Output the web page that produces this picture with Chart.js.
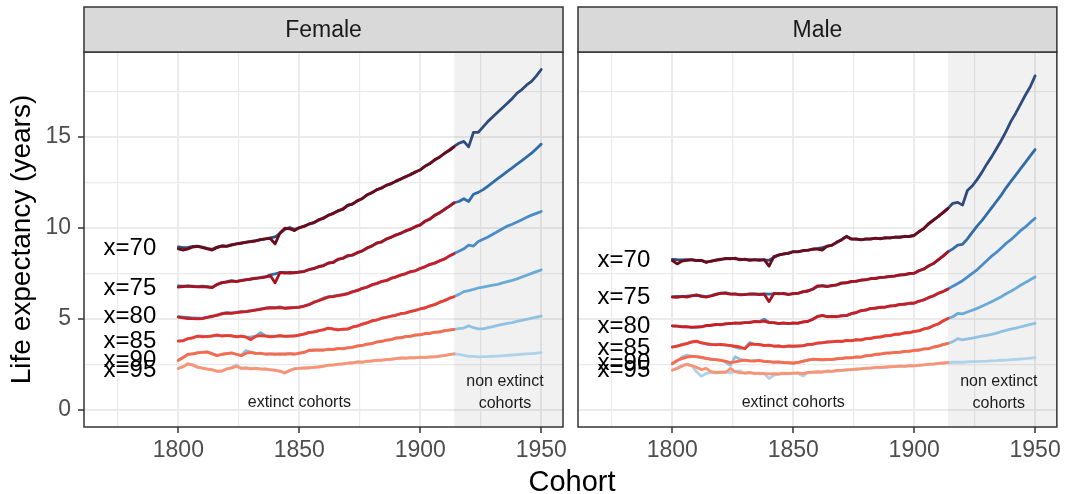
<!doctype html>
<html lang="en">
<head>
<meta charset="utf-8">
<title>Life expectancy by cohort</title>
<script src="https://cdn.jsdelivr.net/npm/chart.js@4"></script>
<style>
    body { margin: 0; background: #fff; width: 1065px; height: 494px; position: relative; overflow: hidden;
           font-family: "Liberation Sans", Arial, sans-serif; }
    #female { position: absolute; left: 0; top: 0; }
    #male { position: absolute; left: 570px; top: 0; }
    /* shared x axis title, centred under both panels */
    #xtitle { position: absolute; left: 472px; width: 200px; top: 464px; line-height: 34px;
              text-align: center; font-size: 29px; color: #000; }
</style>
</head>
<body>
<canvas id="female" width="572" height="494"></canvas>
<canvas id="male" width="495" height="494"></canvas>
<div id="xtitle">Cohort</div>

<script>
// cohorts, every second year
const YEARS = [
    1800, 1802, 1804, 1806, 1808, 1810, 1812, 1814, 1816, 1818,
    1820, 1822, 1824, 1826, 1828, 1830, 1832, 1834, 1836, 1838,
    1840, 1842, 1844, 1846, 1848, 1850, 1852, 1854, 1856, 1858,
    1860, 1862, 1864, 1866, 1868, 1870, 1872, 1874, 1876, 1878,
    1880, 1882, 1884, 1886, 1888, 1890, 1892, 1894, 1896, 1898,
    1900, 1902, 1904, 1906, 1908, 1910, 1912, 1914, 1916, 1918,
    1920, 1922, 1924, 1926, 1928, 1930, 1932, 1934, 1936, 1938,
    1940, 1942, 1944, 1946, 1948, 1950
];
const AGES = ['x=70', 'x=75', 'x=80', 'x=85', 'x=90', 'x=95'];

// all cohorts 1800-1950 (blue), extinct cohorts 1800-1914 (red)
const FEMALE_ALL_70 = [
    8.95, 8.92, 8.93, 8.98, 9.00,  8.95, 8.88, 8.82, 8.95, 9.02,
    9.00, 9.08, 9.12, 9.18, 9.20,  9.26, 9.30, 9.36, 9.40, 9.45,
    9.50, 9.70, 9.92, 10.02, 9.92,  10.00, 10.10, 10.20, 10.30, 10.42,
    10.55, 10.68, 10.80, 10.92, 11.05,  11.22, 11.32, 11.48, 11.62, 11.80,
    11.95, 12.08, 12.20, 12.33, 12.45,  12.55, 12.70, 12.80, 12.95, 13.05,
    13.20, 13.38, 13.55, 13.72, 13.90,  14.08, 14.28, 14.48, 14.65, 14.75,
    14.45, 15.25, 15.25, 15.55, 15.85,  16.10, 16.35, 16.60, 16.85, 17.10,
    17.40, 17.60, 17.85, 18.05, 18.35,  18.70
];
const FEMALE_ALL_75 = [
    6.82, 6.80, 6.82, 6.80, 6.78,  6.80, 6.78, 6.74, 6.88, 6.98,
    7.05, 7.10, 7.06, 7.12, 7.15,  7.20, 7.22, 7.28, 7.32, 7.42,
    7.48, 7.55, 7.55, 7.52, 7.55,  7.56, 7.62, 7.70, 7.78, 7.86,
    7.95, 8.05, 8.12, 8.25, 8.35,  8.45, 8.52, 8.62, 8.75, 8.88,
    9.02, 9.15, 9.25, 9.38, 9.50,  9.60, 9.72, 9.82, 9.95, 10.05,
    10.18, 10.35, 10.50, 10.68, 10.85,  11.00, 11.20, 11.38, 11.45, 11.60,
    11.45, 11.85, 11.95, 12.10, 12.30,  12.50, 12.70, 12.90, 13.10, 13.30,
    13.50, 13.70, 13.90, 14.10, 14.35,  14.60
];
const FEMALE_ALL_80 = [
    5.12, 5.10, 5.08, 5.05, 5.04,  5.04, 5.10, 5.12, 5.22, 5.30,
    5.35, 5.33, 5.36, 5.40, 5.42,  5.45, 5.50, 5.55, 5.60, 5.64,
    5.62, 5.66, 5.60, 5.62, 5.64,  5.66, 5.72, 5.80, 5.90, 6.02,
    6.14, 6.22, 6.25, 6.30, 6.35,  6.40, 6.48, 6.58, 6.66, 6.76,
    6.86, 6.96, 7.05, 7.12, 7.22,  7.32, 7.40, 7.50, 7.58, 7.66,
    7.76, 7.88, 7.98, 8.08, 8.18,  8.30, 8.45, 8.60, 8.72, 8.85,
    9.05, 9.00, 9.25, 9.38, 9.50,  9.65, 9.80, 9.95, 10.10, 10.20,
    10.32, 10.45, 10.58, 10.70, 10.80,  10.90
];
const FEMALE_ALL_85 = [
    3.80, 3.82, 3.90, 3.98, 4.05,  4.05, 4.02, 4.08, 4.10, 4.08,
    4.10, 4.06, 4.04, 4.05, 4.02,  4.00, 4.05, 4.25, 4.08, 4.05,
    4.06, 4.07, 4.06, 4.05, 4.08,  4.10, 4.18, 4.25, 4.30, 4.35,
    4.42, 4.48, 4.46, 4.42, 4.42,  4.45, 4.55, 4.62, 4.70, 4.80,
    4.88, 4.95, 5.02, 5.10, 5.15,  5.22, 5.28, 5.34, 5.40, 5.48,
    5.54, 5.62, 5.70, 5.80, 5.90,  6.02, 6.12, 6.23, 6.35, 6.50,
    6.55, 6.62, 6.70, 6.75, 6.80,  6.85, 6.90, 6.98, 7.05, 7.12,
    7.20, 7.30, 7.40, 7.50, 7.60,  7.69
];
const FEMALE_ALL_90 = [
    2.75, 2.90, 3.05, 3.10, 3.15,  3.18, 3.20, 3.10, 3.00, 3.05,
    3.10, 3.12, 3.05, 3.00, 3.26,  3.18, 3.12, 3.10, 3.08, 3.08,
    3.08, 3.06, 3.08, 3.10, 3.08,  3.10, 3.18, 3.26, 3.30, 3.28,
    3.30, 3.32, 3.34, 3.36, 3.38,  3.40, 3.45, 3.50, 3.55, 3.60,
    3.66, 3.72, 3.78, 3.82, 3.88,  3.94, 3.98, 4.02, 4.06, 4.10,
    4.14, 4.18, 4.22, 4.26, 4.30,  4.35, 4.40, 4.43, 4.47, 4.50,
    4.63, 4.52, 4.45, 4.45, 4.52,  4.58, 4.64, 4.70, 4.75, 4.80,
    4.86, 4.92, 4.98, 5.04, 5.10,  5.16
];
const FEMALE_ALL_95 = [
    2.29, 2.40, 2.52, 2.50, 2.36,  2.30, 2.26, 2.22, 2.15, 2.12,
    2.25, 2.35, 2.48, 2.30, 2.32,  2.28, 2.30, 2.26, 2.24, 2.22,
    2.20, 2.12, 2.02, 2.18, 2.28,  2.30, 2.32, 2.30, 2.35, 2.38,
    2.42, 2.46, 2.48, 2.50, 2.54,  2.56, 2.60, 2.62, 2.64, 2.66,
    2.70, 2.72, 2.74, 2.76, 2.80,  2.84, 2.84, 2.86, 2.86, 2.88,
    2.88, 2.90, 2.90, 2.92, 2.96,  3.00, 3.04, 3.08, 3.05, 3.00,
    2.95, 2.94, 2.92, 2.93, 2.93,  2.95, 2.96, 2.98, 3.00, 3.02,
    3.04, 3.06, 3.08, 3.10, 3.12,  3.15
];

const FEMALE_EXT_70 = [
    8.85, 8.78, 8.85, 8.95, 8.98,  8.92, 8.85, 8.78, 8.92, 9.00,
    8.98, 9.05, 9.12, 9.15, 9.22,  9.25, 9.28, 9.35, 9.40, 9.42,
    9.12, 9.72, 9.98, 9.95, 9.85,  10.02, 10.08, 10.22, 10.28, 10.45,
    10.52, 10.70, 10.78, 10.95, 11.02,  11.25, 11.30, 11.50, 11.60, 11.82,
    11.92, 12.10, 12.18, 12.35, 12.42,  12.58, 12.68, 12.82, 12.92, 13.08,
    13.18, 13.40, 13.52, 13.75, 13.88,  14.10, 14.25, 14.45
];
const FEMALE_EXT_75 = [
    6.75, 6.78, 6.80, 6.78, 6.76,  6.78, 6.75, 6.72, 6.90, 7.00,
    7.02, 7.08, 7.05, 7.10, 7.16,  7.18, 7.24, 7.26, 7.30, 7.38,
    6.98, 7.55, 7.52, 7.55, 7.53,  7.58, 7.60, 7.72, 7.76, 7.88,
    7.92, 8.08, 8.10, 8.28, 8.32,  8.48, 8.50, 8.65, 8.72, 8.90,
    9.00, 9.18, 9.22, 9.40, 9.48,  9.62, 9.70, 9.85, 9.92, 10.08,
    10.15, 10.38, 10.48, 10.70, 10.82,  11.02, 11.18, 11.38
];
const FEMALE_EXT_80 = [
    5.10, 5.06, 5.02, 5.02, 5.00,  5.02, 5.08, 5.15, 5.20, 5.28,
    5.32, 5.30, 5.35, 5.38, 5.40,  5.44, 5.48, 5.52, 5.58, 5.60,
    5.60, 5.62, 5.58, 5.60, 5.62,  5.64, 5.70, 5.78, 5.92, 6.00,
    6.10, 6.20, 6.22, 6.28, 6.32,  6.38, 6.50, 6.55, 6.68, 6.74,
    6.88, 6.94, 7.06, 7.10, 7.24,  7.30, 7.42, 7.48, 7.60, 7.64,
    7.78, 7.86, 8.00, 8.06, 8.20,  8.28, 8.46, 8.58
];
const FEMALE_EXT_85 = [
    3.78, 3.80, 3.92, 3.96, 4.06,  4.02, 4.04, 4.06, 4.12, 4.06,
    4.08, 4.08, 4.02, 4.06, 4.00,  3.86, 4.04, 4.08, 4.06, 4.02,
    4.04, 4.08, 4.04, 4.06, 4.06,  4.12, 4.16, 4.26, 4.28, 4.36,
    4.40, 4.50, 4.44, 4.40, 4.44,  4.44, 4.56, 4.60, 4.72, 4.78,
    4.90, 4.94, 5.04, 5.08, 5.16,  5.20, 5.30, 5.32, 5.42, 5.46,
    5.56, 5.60, 5.72, 5.78, 5.92,  6.00, 6.14, 6.22
];
const FEMALE_EXT_90 = [
    2.72, 2.88, 3.06, 3.08, 3.14,  3.16, 3.18, 3.08, 2.98, 3.06,
    3.10, 3.14, 3.06, 2.98, 3.12,  3.16, 3.10, 3.12, 3.06, 3.08,
    3.06, 3.08, 3.06, 3.10, 3.06,  3.12, 3.16, 3.28, 3.28, 3.30,
    3.28, 3.34, 3.32, 3.38, 3.36,  3.42, 3.44, 3.52, 3.54, 3.62,
    3.64, 3.74, 3.76, 3.84, 3.86,  3.96, 3.96, 4.04, 4.04, 4.12,
    4.12, 4.20, 4.20, 4.28, 4.28,  4.36, 4.38, 4.43
];
const FEMALE_EXT_95 = [
    2.28, 2.38, 2.54, 2.46, 2.34,  2.30, 2.24, 2.20, 2.12, 2.14,
    2.26, 2.30, 2.40, 2.28, 2.30,  2.26, 2.28, 2.24, 2.26, 2.20,
    2.18, 2.14, 2.04, 2.16, 2.26,  2.28, 2.30, 2.32, 2.34, 2.36,
    2.40, 2.46, 2.46, 2.52, 2.52,  2.58, 2.58, 2.64, 2.62, 2.68,
    2.68, 2.74, 2.72, 2.78, 2.78,  2.82, 2.86, 2.84, 2.88, 2.86,
    2.90, 2.88, 2.92, 2.92, 2.96,  2.98, 3.04, 3.08
];

const MALE_ALL_70 = [
    8.27, 8.25, 8.24, 8.26, 8.24,  8.22, 8.20, 8.14, 8.16, 8.24,
    8.28, 8.30, 8.33, 8.30, 8.28,  8.26, 8.25, 8.24, 8.26, 8.24,
    8.22, 8.38, 8.52, 8.56, 8.62,  8.68, 8.70, 8.74, 8.78, 8.82,
    8.86, 8.92, 8.98, 9.06, 9.20,  9.36, 9.52, 9.40, 9.38, 9.36,
    9.38, 9.40, 9.42, 9.42, 9.44,  9.46, 9.48, 9.50, 9.52, 9.55,
    9.60, 9.78, 9.98, 10.22, 10.45,  10.62, 10.85, 11.07, 11.35, 11.40,
    11.25, 12.05, 12.30, 12.65, 13.05,  13.50, 13.90, 14.35, 14.80, 15.30,
    15.85, 16.30, 16.80, 17.30, 17.75,  18.35
];
const MALE_ALL_75 = [
    6.22, 6.24, 6.22, 6.25, 6.28,  6.30, 6.26, 6.22, 6.28, 6.36,
    6.40, 6.44, 6.38, 6.36, 6.34,  6.35, 6.36, 6.38, 6.36, 6.38,
    6.36, 6.38, 6.40, 6.38, 6.36,  6.38, 6.42, 6.48, 6.55, 6.62,
    6.78, 6.84, 6.80, 6.82, 6.88,  6.95, 7.00, 7.04, 7.08, 7.12,
    7.16, 7.20, 7.24, 7.27, 7.30,  7.33, 7.36, 7.40, 7.44, 7.48,
    7.52, 7.64, 7.76, 7.90, 8.05,  8.25, 8.46, 8.69, 8.85, 9.05,
    9.10, 9.40, 9.75, 10.10, 10.40,  10.75, 11.10, 11.45, 11.80, 12.20,
    12.55, 12.90, 13.25, 13.60, 13.95,  14.30
];
const MALE_ALL_80 = [
    4.61, 4.60, 4.58, 4.56, 4.55,  4.54, 4.58, 4.62, 4.66, 4.68,
    4.70, 4.72, 4.76, 4.76, 4.78,  4.80, 4.82, 4.84, 4.86, 4.98,
    4.82, 4.78, 4.76, 4.76, 4.75,  4.76, 4.78, 4.82, 4.88, 4.96,
    5.15, 5.18, 5.14, 5.12, 5.14,  5.16, 5.20, 5.28, 5.36, 5.44,
    5.50, 5.56, 5.60, 5.63, 5.66,  5.70, 5.74, 5.78, 5.82, 5.85,
    5.88, 5.96, 6.06, 6.16, 6.28,  6.40, 6.52, 6.64, 6.80, 6.95,
    7.10, 7.30, 7.50, 7.70, 7.95,  8.20, 8.45, 8.65, 8.90, 9.15,
    9.35, 9.60, 9.85, 10.05, 10.30,  10.53
];
const MALE_ALL_85 = [
    3.47, 3.52, 3.60, 3.66, 3.72,  3.76, 3.70, 3.62, 3.58, 3.60,
    3.58, 3.56, 3.55, 3.45, 3.38,  3.40, 3.70, 3.62, 3.58, 3.56,
    3.55, 3.52, 3.50, 3.48, 3.50,  3.51, 3.50, 3.54, 3.58, 3.62,
    3.66, 3.70, 3.72, 3.75, 3.76,  3.78, 3.80, 3.82, 3.84, 3.86,
    3.90, 3.94, 3.98, 4.02, 4.06,  4.10, 4.14, 4.18, 4.22, 4.26,
    4.30, 4.36, 4.44, 4.52, 4.62,  4.74, 4.88, 5.03, 5.12, 5.30,
    5.28, 5.38, 5.48, 5.58, 5.70,  5.82, 5.95, 6.08, 6.22, 6.38,
    6.52, 6.68, 6.85, 7.00, 7.15,  7.30
];
const MALE_ALL_90 = [
    2.52, 2.70, 2.90, 3.00, 2.96,  2.92, 2.86, 2.82, 2.80, 2.76,
    2.74, 2.62, 2.45, 2.92, 2.78,  2.72, 2.70, 2.72, 2.70, 2.68,
    2.66, 2.64, 2.62, 2.60, 2.58,  2.56, 2.60, 2.66, 2.74, 2.80,
    2.76, 2.74, 2.76, 2.78, 2.80,  2.84, 2.86, 2.88, 2.90, 2.92,
    2.96, 3.00, 3.04, 3.08, 3.12,  3.14, 3.15, 3.18, 3.20, 3.24,
    3.26, 3.30, 3.34, 3.38, 3.44,  3.52, 3.58, 3.66, 3.75, 3.92,
    3.85, 3.90, 3.95, 4.00, 4.05,  4.10, 4.15, 4.22, 4.30, 4.37,
    4.44, 4.50, 4.57, 4.63, 4.70,  4.76
];
const MALE_ALL_95 = [
    2.20, 2.32, 2.46, 2.52, 2.42,  2.10, 1.85, 2.00, 2.06, 2.02,
    2.06, 2.10, 2.04, 2.12, 2.14,  2.00, 2.04, 2.02, 1.98, 2.00,
    1.72, 1.92, 1.96, 2.00, 1.98,  2.02, 2.00, 1.86, 2.04, 2.06,
    2.08, 2.10, 2.12, 2.12, 2.14,  2.16, 2.18, 2.20, 2.22, 2.26,
    2.28, 2.30, 2.32, 2.32, 2.34,  2.36, 2.38, 2.40, 2.40, 2.42,
    2.42, 2.44, 2.48, 2.50, 2.52,  2.54, 2.57, 2.60, 2.62, 2.63,
    2.62, 2.64, 2.65, 2.66, 2.67,  2.68, 2.70, 2.71, 2.73, 2.74,
    2.76, 2.78, 2.80, 2.82, 2.85,  2.88
];

const MALE_EXT_70 = [
    8.20, 8.02, 8.18, 8.22, 8.26,  8.20, 8.22, 8.10, 8.18, 8.22,
    8.26, 8.32, 8.30, 8.34, 8.24,  8.28, 8.22, 8.26, 8.22, 8.26,
    7.90, 8.42, 8.50, 8.58, 8.60,  8.70, 8.68, 8.76, 8.76, 8.84,
    8.84, 8.78, 9.00, 9.04, 9.22,  9.34, 9.54, 9.38, 9.40, 9.34,
    9.40, 9.38, 9.44, 9.40, 9.46,  9.44, 9.50, 9.48, 9.54, 9.52,
    9.58, 9.80, 9.96, 10.24, 10.42,  10.64, 10.84, 11.07
];
const MALE_EXT_75 = [
    6.20, 6.18, 6.24, 6.20, 6.26,  6.32, 6.24, 6.20, 6.26, 6.34,
    6.42, 6.40, 6.36, 6.38, 6.32,  6.34, 6.38, 6.36, 6.34, 6.36,
    5.95, 6.40, 6.38, 6.40, 6.34,  6.40, 6.40, 6.50, 6.52, 6.64,
    6.82, 6.80, 6.78, 6.84, 6.86,  6.98, 6.98, 7.06, 7.06, 7.14,
    7.14, 7.22, 7.22, 7.28, 7.30,  7.34, 7.35, 7.42, 7.42, 7.50,
    7.50, 7.66, 7.74, 7.92, 8.04,  8.26, 8.45, 8.69
];
const MALE_EXT_80 = [
    4.62, 4.60, 4.56, 4.58, 4.54,  4.56, 4.56, 4.64, 4.64, 4.70,
    4.68, 4.74, 4.74, 4.78, 4.76,  4.80, 4.80, 4.86, 4.84, 4.88,
    4.80, 4.80, 4.74, 4.78, 4.74,  4.78, 4.76, 4.84, 4.86, 4.98,
    5.12, 5.20, 5.12, 5.14, 5.12,  5.18, 5.18, 5.30, 5.34, 5.46,
    5.48, 5.58, 5.58, 5.65, 5.64,  5.72, 5.72, 5.80, 5.80, 5.86,
    5.86, 5.98, 6.04, 6.18, 6.26,  6.42, 6.50, 6.64
];
const MALE_EXT_85 = [
    3.45, 3.50, 3.58, 3.64, 3.74,  3.78, 3.68, 3.64, 3.60, 3.58,
    3.60, 3.58, 3.54, 3.50, 3.46,  3.36, 3.62, 3.60, 3.60, 3.54,
    3.56, 3.50, 3.52, 3.46, 3.52,  3.50, 3.52, 3.52, 3.60, 3.60,
    3.68, 3.68, 3.74, 3.74, 3.78,  3.76, 3.82, 3.80, 3.86, 3.84,
    3.92, 3.92, 4.00, 4.00, 4.08,  4.08, 4.16, 4.16, 4.24, 4.24,
    4.32, 4.34, 4.46, 4.50, 4.64,  4.72, 4.90, 5.03
];
const MALE_EXT_90 = [
    2.55, 2.72, 2.82, 2.90, 2.94,  2.93, 2.90, 2.84, 2.78, 2.76,
    2.72, 2.68, 2.60, 2.64, 2.70,  2.74, 2.70, 2.68, 2.72, 2.66,
    2.66, 2.62, 2.64, 2.60, 2.60,  2.58, 2.62, 2.68, 2.74, 2.78,
    2.78, 2.76, 2.78, 2.76, 2.82,  2.82, 2.88, 2.86, 2.92, 2.90,
    2.98, 2.98, 3.06, 3.06, 3.12,  3.12, 3.16, 3.16, 3.22, 3.22,
    3.28, 3.28, 3.36, 3.36, 3.46,  3.50, 3.60, 3.66
];
const MALE_EXT_95 = [
    2.18, 2.28, 2.40, 2.50, 2.44,  2.34, 2.22, 2.28, 2.10, 2.06,
    2.08, 2.06, 2.28, 2.10, 2.04,  2.04, 2.06, 2.00, 2.02, 2.00,
    1.98, 2.00, 1.98, 2.02, 2.00,  2.02, 2.04, 2.00, 2.06, 2.08,
    2.10, 2.08, 2.14, 2.12, 2.18,  2.18, 2.22, 2.22, 2.26, 2.26,
    2.30, 2.30, 2.34, 2.34, 2.36,  2.38, 2.38, 2.42, 2.40, 2.44,
    2.42, 2.46, 2.48, 2.52, 2.52,  2.56, 2.58, 2.60
];

// age labels drawn left of the series
const LABEL_X = 1780;
const FEMALE_LABEL_Y = [8.87, 6.68, 5.12, 3.75, 2.74, 2.2];
const MALE_LABEL_Y = [8.23, 6.16, 4.57, 3.39, 2.56, 2.2];

// annotations
const NOTE_TEXT = ['extinct cohorts', 'non extinct', 'cohorts'];
const NOTE_X = [1850, 1935, 1935];
const NOTE_Y = [0.38, 1.55, 0.37];
const SHADE_FROM = 1914;

const X_TICKS = [1775, 1800, 1825, 1850, 1875, 1900, 1925, 1950];
const Y_TICKS = [0, 2.5, 5, 7.5, 10, 12.5, 15, 17.5];

const BLUES = ['#2f4b7c', '#2f6ca8', '#4a8cc6', '#6aaad6', '#8fc1e0', '#afd2e9'];
const REDS = ['#6b0a19', '#a8121e', '#cb1e24', '#ef3b2c', '#fb6a4a', '#fc9373'];

const FONT = '"Liberation Sans", Arial, sans-serif';

function pts(vals) {
    return vals.map((v, i) => ({x: YEARS[i], y: v}));
}

const panelPlugin = {
    id: 'panel',
    beforeDatasetsDraw(chart) {
        const {ctx, chartArea: a, scales: {x}} = chart;
        const x0 = x.getPixelForValue(SHADE_FROM);
        ctx.save();
        ctx.fillStyle = 'rgba(0,0,0,0.055)';
        ctx.fillRect(x0, a.top, a.right - x0, a.bottom - a.top);
        ctx.restore();
    },
    afterDatasetsDraw(chart, args, opts) {
        const {ctx, chartArea: a, scales: {x, y}} = chart;
        ctx.save();
        // age labels
        ctx.fillStyle = '#000';
        ctx.font = '24px ' + FONT;
        ctx.textAlign = 'center';
        ctx.textBaseline = 'middle';
        AGES.forEach((t, i) => {
            ctx.fillText(t, x.getPixelForValue(LABEL_X), y.getPixelForValue(opts.labelY[i]));
        });
        // notes
        ctx.fillStyle = '#1a1a1a';
        ctx.font = '16px ' + FONT;
        NOTE_TEXT.forEach((t, i) => {
            ctx.fillText(t, x.getPixelForValue(NOTE_X[i]), y.getPixelForValue(NOTE_Y[i]));
        });
        // panel border
        ctx.strokeStyle = '#333';
        ctx.lineWidth = 1.5;
        ctx.strokeRect(a.left, a.top, a.right - a.left, a.bottom - a.top);
        // facet strip
        const top = 7;
        ctx.fillStyle = '#d9d9d9';
        ctx.fillRect(a.left, top, a.right - a.left, a.top - top);
        ctx.strokeRect(a.left, top, a.right - a.left, a.top - top);
        ctx.fillStyle = '#1a1a1a';
        ctx.font = '23px ' + FONT;
        ctx.fillText(opts.strip, (a.left + a.right) / 2, (top + a.top) / 2 + 1);
        ctx.restore();
    }
};

function isMajor(v, step) {
    return Math.abs(v / step - Math.round(v / step)) < 1e-6;
}

function makePanel(id, strip, all, ext, labelY, showY) {
    const datasets = [];
    ext.forEach((vals, i) => datasets.push({
        data: pts(vals), borderColor: REDS[i], borderWidth: 2.8, order: 0
    }));
    all.forEach((vals, i) => datasets.push({
        data: pts(vals), borderColor: BLUES[i], borderWidth: 2.8, order: 1
    }));

    new Chart(document.getElementById(id), {
        type: 'line',
        data: {datasets: datasets},
        options: {
            responsive: false,
            animation: false,
            events: [],
            layout: {padding: {top: 52, right: showY ? 9 : 7, left: 0, bottom: 0}},
            elements: {
                point: {radius: 0},
                line: {tension: 0, borderJoinStyle: 'round', borderCapStyle: 'round'}
            },
            plugins: {
                legend: {display: false},
                tooltip: {enabled: false},
                panel: {strip: strip, labelY: labelY}
            },
            scales: {
                x: {
                    type: 'linear', min: 1761, max: 1959,
                    afterBuildTicks: s => { s.ticks = X_TICKS.map(v => ({value: v})); },
                    afterFit: s => { s.height = 67; },
                    border: {display: false},
                    grid: {
                        color: '#ebebeb',
                        lineWidth: c => isMajor(c.tick.value, 50) ? 2 : 1.2,
                        tickLength: 6, tickWidth: 1.5,
                        tickColor: c => isMajor(c.tick.value, 50) ? '#333' : 'rgba(0,0,0,0)'
                    },
                    ticks: {
                        color: '#4d4d4d', padding: 4, maxRotation: 0, autoSkip: false,
                        font: {size: 23, family: FONT},
                        callback: v => isMajor(v, 50) ? String(v) : ''
                    }
                },
                y: {
                    type: 'linear', min: -0.935, max: 19.66,
                    afterBuildTicks: s => { s.ticks = Y_TICKS.map(v => ({value: v})); },
                    afterFit: s => { s.width = showY ? 84 : 8; },
                    border: {display: false},
                    grid: {
                        color: '#ebebeb',
                        lineWidth: c => isMajor(c.tick.value, 5) ? 2 : 1.2,
                        drawTicks: showY,
                        tickLength: 6, tickWidth: 1.5,
                        tickColor: c => isMajor(c.tick.value, 5) ? '#333' : 'rgba(0,0,0,0)'
                    },
                    ticks: {
                        display: showY,
                        color: '#4d4d4d', padding: 7, autoSkip: false,
                        font: {size: 23, family: FONT},
                        callback: v => isMajor(v, 5) ? String(v) : ''
                    },
                    title: {
                        display: showY,
                        text: 'Life expectancy (years)',
                        color: '#000',
                        font: {size: 28, family: FONT},
                        padding: {top: 5, bottom: 0}
                    }
                }
            }
        },
        plugins: [panelPlugin]
    });
}

makePanel('female', 'Female',
    [FEMALE_ALL_70, FEMALE_ALL_75, FEMALE_ALL_80, FEMALE_ALL_85, FEMALE_ALL_90, FEMALE_ALL_95],
    [FEMALE_EXT_70, FEMALE_EXT_75, FEMALE_EXT_80, FEMALE_EXT_85, FEMALE_EXT_90, FEMALE_EXT_95],
    FEMALE_LABEL_Y, true);
makePanel('male', 'Male',
    [MALE_ALL_70, MALE_ALL_75, MALE_ALL_80, MALE_ALL_85, MALE_ALL_90, MALE_ALL_95],
    [MALE_EXT_70, MALE_EXT_75, MALE_EXT_80, MALE_EXT_85, MALE_EXT_90, MALE_EXT_95],
    MALE_LABEL_Y, false);
</script>
</body>
</html>
